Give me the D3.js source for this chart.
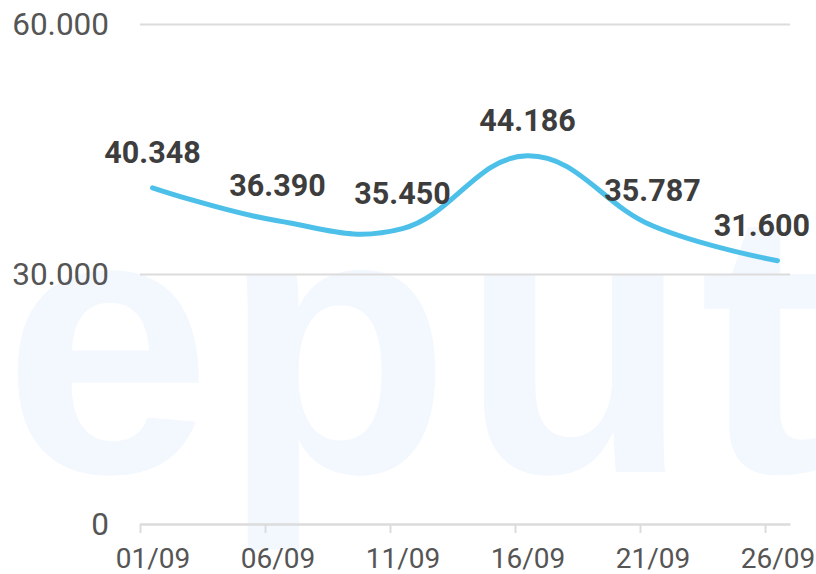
<!DOCTYPE html>
<html>
<head>
<meta charset="utf-8">
<script src="https://cdn.jsdelivr.net/npm/d3@7"></script>
<style>
  body { margin: 0; background: #fff; }
  svg { display: block; font-family: Roboto, "Noto Sans", sans-serif; }
  .axis text { fill: #555; }
</style>
</head>
<body>
<svg id="chart" width="816" height="574"></svg>
<script>
// values
let days = ["01/09", "06/09", "11/09", "16/09", "21/09", "26/09"];
let totals = [40348, 36390, 35450, 44186, 35787, 31600];
let yTicks = [0, 30000, 60000];

let width = 816, height = 574;
let margin = {top: 24, right: 26, bottom: 50, left: 140};

let svg = d3.select("#chart");

let parseDay = d3.utcParse("%d/%m/%Y");
let dates = days.map(d => parseDay(d + "/2023"));
let data = dates.map((d, i) => ({date: d, value: totals[i]}));

let loc = d3.formatLocale({decimal: ",", thousands: ".", grouping: [3], currency: ["", ""]});
let fmt = loc.format(",d");

// watermark behind the chart
svg.append("text")
    .attr("x", 3)
    .attr("y", 472)
    .attr("font-family", "Liberation Sans")
    .attr("font-weight", "bold")
    .attr("font-size", 375)
    .attr("letter-spacing", 10)
    .attr("fill", "#f3f7fe")
    .text("eputi");

let xScale = d3.scaleUtc()
    .domain([dates[0], d3.utcDay.offset(dates[dates.length - 1], 1)])
    .range([margin.left, width - margin.right]);

let yScale = d3.scaleLinear()
    .domain([0, 60000])
    .range([height - margin.bottom, margin.top]);

let half = xScale(d3.utcHour.offset(dates[0], 12)) - xScale(dates[0]);

// y grid + labels
let yAxis = svg.append("g")
    .attr("class", "axis axis-y")
    .attr("transform", "translate(" + margin.left + ",0)")
    .call(d3.axisLeft(yScale)
        .tickValues(yTicks)
        .tickSize(-(width - margin.left - margin.right))
        .tickFormat(fmt))
    .attr("font-family", "Roboto")
    .attr("font-size", 31.5);
yAxis.select(".domain").remove();
yAxis.selectAll("line").attr("stroke", "#dcdcdc").attr("stroke-width", 2);
yAxis.selectAll("text").attr("x", -31);

// x axis
let xAxis = svg.append("g")
    .attr("class", "axis axis-x")
    .attr("transform", "translate(0," + yScale(0) + ")")
    .call(d3.axisBottom(xScale)
        .tickValues(dates)
        .tickSize(9)
        .tickSizeOuter(0)
        .tickPadding(15)
        .tickFormat(d3.utcFormat("%d/%m")))
    .attr("font-family", "Roboto")
    .attr("font-size", 28);
xAxis.select(".domain").attr("stroke", "#dcdcdc").attr("stroke-width", 2);
xAxis.selectAll("line").attr("stroke", "#dcdcdc").attr("stroke-width", 2);
xAxis.selectAll("text").attr("x", half);

// line
let line = d3.line()
    .x(d => xScale(d.date) + half)
    .y(d => yScale(d.value))
    .curve(d3.curveCardinal.tension(-0.2));

svg.append("path")
    .datum(data)
    .attr("fill", "none")
    .attr("stroke", "#4cc0e8")
    .attr("stroke-width", 5)
    .attr("stroke-linecap", "round")
    .attr("d", line);

// value labels
svg.selectAll(".val")
    .data(data)
    .join("text")
    .attr("class", "val")
    .attr("font-family", "Roboto")
    .attr("font-size", 30.5)
    .attr("font-weight", "bold")
    .attr("fill", "#3d3d3d")
    .attr("text-anchor", "middle")
    .attr("y", d => yScale(d.value) - 25)
    .text(d => fmt(d.value))
    .attr("x", function(d) {
        let cx = xScale(d.date) + half;
        let w = this.getComputedTextLength();
        return Math.min(cx, width - 6 - w / 2);
    });
</script>
</body>
</html>
